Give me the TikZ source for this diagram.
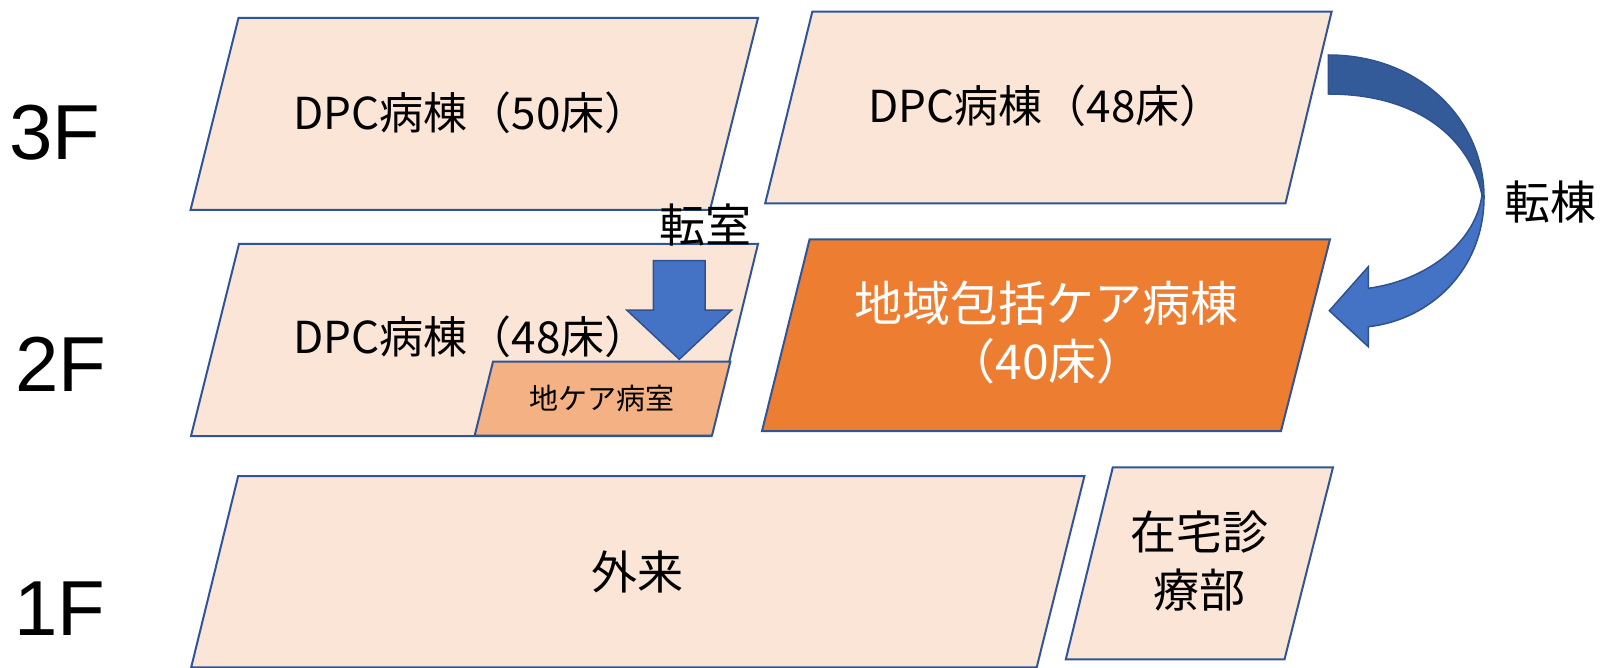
\documentclass[tikz,border=0pt]{standalone}
\usepackage{fontspec}
\setmainfont{Liberation Sans}
\newfontfamily\jp{Noto Sans CJK JP}
\definecolor{peach}{RGB}{251,229,214}
\definecolor{edgeblue}{RGB}{47,85,151}
\definecolor{arrowblue}{RGB}{68,114,196}
\definecolor{arrowdark}{RGB}{51,91,154}
\definecolor{arrowedge}{RGB}{47,82,143}
\definecolor{orangefill}{RGB}{237,125,49}
\definecolor{lightorange}{RGB}{244,177,131}
\tikzset{
  box/.style={draw=edgeblue, line width=2pt, fill=peach, line join=miter},
  floorlbl/.style={anchor=base west, inner sep=0pt, font=\fontsize{78}{80}\selectfont},
  jtext/.style={inner sep=0pt, align=center, font=\jp\fontsize{46}{58}\selectfont},
  dpctext/.style={jtext, font=\jp\fontsize{44}{52}\selectfont},
  blockarrow/.style={draw=arrowedge, line width=1.5pt, line join=miter},
}
\begin{document}
\begin{tikzpicture}[x=1pt,y=-1pt]
\useasboundingbox (0,0) rectangle (1600,668);
\fill[white] (0,0) rectangle (1600,668);

% floor labels
\node[floorlbl] (f3) at (9,160) {3F};
\node[floorlbl] (f2) at (15,391) {2F};
\node[floorlbl] (f1) at (14,635) {1F};

% 3F
\draw[box] (238.5,18) -- (758,18) -- (710,210) -- (190.5,210) -- cycle;
\node[dpctext] (w3l) at (471,112.5) {DPC病棟（50床）};
\draw[box] (812.3,11.7) -- (1331.6,11.7) -- (1285.5,203.3) -- (765.2,203.3) -- cycle;
\node[dpctext] (w3r) at (1046,105.5) {DPC病棟（48床）};

% 2F
\draw[box] (239,244) -- (758,244) -- (711,436) -- (191,436) -- cycle;
\node[dpctext] (w2l) at (471,337) {DPC病棟（48床）};
\draw[box, fill=lightorange] (493,361.7) -- (730.3,361.7) -- (712,435.5) -- (474.7,435.5) -- cycle;
\node[jtext, font=\jp\fontsize{29}{34}\selectfont] (room) at (602,398.3) {地ケア病室};
\draw[box, fill=orangefill] (809.6,239.3) -- (1330,239.3) -- (1281,431) -- (762,431) -- cycle;
\node[jtext, text=white, font=\jp\fontsize{48}{58}\selectfont] (chiiki) at (1046,333) {地域包括ケア病棟\\（40床）};

% 1F
\draw[box] (238.2,476) -- (1084.4,476) -- (1036.7,667.3) -- (191.2,667.3) -- cycle;
\node[jtext] (gairai) at (637,572) {外来};
\draw[box] (1112.8,467.3) -- (1333,467.3) -- (1284.5,659.3) -- (1065.8,659.3) -- cycle;
\node[jtext] (zaitaku) at (1199,561) {在宅診\\療部};

% transfer room arrow
\node[jtext] (tenshitsu) at (705,225) {転室};
\draw[blockarrow, fill=arrowblue] (653.3,260.7) -- (705,260.7) -- (705,310) -- (731.7,310)
  -- (679.3,359.3) -- (626.7,310) -- (653.3,310) -- cycle;

% transfer ward curved arrow
\draw[blockarrow, fill=arrowdark] (1328.3,55) .. controls (1420,55) and (1484,120) .. (1484,197)
  .. controls (1484,200) and (1483,200) .. (1482,195)
  .. controls (1470,140) and (1420,94) .. (1328.3,94) -- cycle;
\draw[blockarrow, fill=arrowblue] (1484,197) .. controls (1484,270) and (1430,320) .. (1368.3,326.7)
  -- (1368.3,346.7) -- (1329.3,310.7) -- (1368.3,266.7) -- (1368.3,288.3)
  .. controls (1430,280) and (1476,240) .. (1482,195) -- cycle;
\node[jtext] (tentou) at (1550,202) {転棟};
\end{tikzpicture}
\end{document}
